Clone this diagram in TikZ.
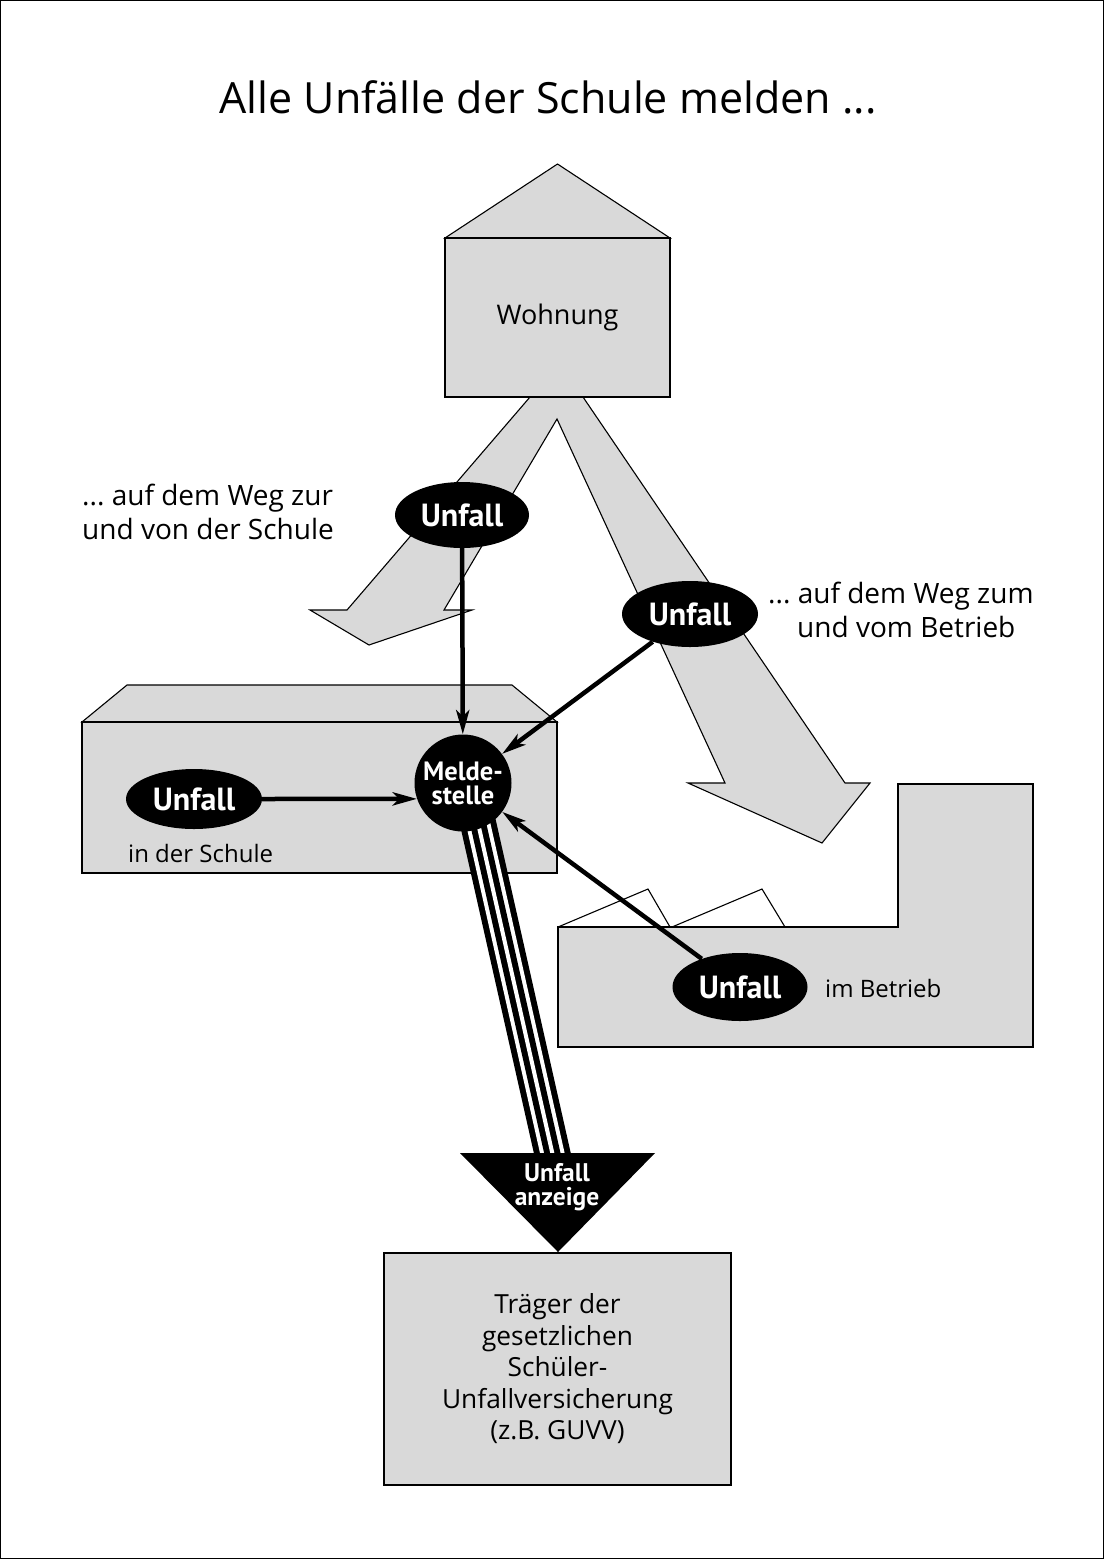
\documentclass[tikz,border=0pt]{standalone}
\usepackage{fontspec}
\setmainfont{Open Sans}
\newfontfamily\condbold{PT Sans}
\usetikzlibrary{shapes.geometric,arrows.meta,calc}
\frenchspacing
\begin{document}
\begin{tikzpicture}[x=1pt,y=-1pt,
  outlined/.style={draw=black, line width=1.1pt, fill=black!15, line join=miter},
  unfall/.style={ellipse, fill=black, text=white, inner sep=0pt,
    font={\condbold\bfseries\fontsize{32}{32}\selectfont}},
  conn/.style={draw=black, line width=4.5pt, -{Stealth[length=24pt,width=13pt,inset=6pt]}},
  lbl/.style={anchor=base west, inner sep=0pt, font={\fontsize{28}{34}\selectfont}},
  small/.style={anchor=base west, inner sep=0pt, font={\fontsize{24}{28}\selectfont}},
  whitebold/.style={text=white, inner sep=0pt, align=center,
    font={\condbold\bfseries\fontsize{25.5}{24}\selectfont}},
]
\useasboundingbox (0,0) rectangle (1104,1559);
% frame
\draw[line width=1.2pt] (0.6,0.6) rectangle (1103.4,1558.4);

% title
\node[inner sep=0pt, font={\fontsize{43}{48}\selectfont}] (title) at (548,97) {Alle Unfälle der Schule melden ...};

% big grey route arrows
\draw[outlined] (530,397) -- (347,610) -- (310,610) -- (369,645) -- (472,610) -- (444,610)
  -- (557,419) -- (725,783) -- (688,783) -- (822,843) -- (870,783) -- (845,783)
  -- (583,397) -- cycle;

% house
\draw[outlined] (445,238) -- (557.5,164) -- (670,238) -- cycle;
\node[outlined, rectangle, minimum width=225pt, minimum height=159pt, inner sep=0pt,
  font={\fontsize{27}{32}\selectfont}] (wohnung) at (557.5,317.5) {Wohnung};

% school
\draw[outlined] (82,722) -- (127,685) -- (512,685) -- (557,722) -- cycle;
\draw[outlined] (82,722) rectangle (557,873);
\node[small] (schule) at (128,862) {in der Schule};

% company
\draw[outlined] (558,927) -- (898,927) -- (898,784) -- (1033,784) -- (1033,1047) -- (558,1047) -- cycle;
\draw[line width=1.1pt, line join=miter] (558,927) -- (648,889) -- (670,927);
\draw[line width=1.1pt, line join=miter] (672,927) -- (762,889) -- (785,927);
\node[small] (betrieb) at (825,997) {im Betrieb};

% texts for routes
\node[lbl] (wegschule1) at (82,505) {... auf dem Weg zur};
\node[lbl] (wegschule2) at (82,539) {und von der Schule};
\node[lbl] (wegbetrieb1) at (768,603) {... auf dem Weg zum};
\node[lbl] (wegbetrieb2) at (797,637) {und vom Betrieb};

% insurer
\node[outlined, rectangle, minimum width=347pt, minimum height=232pt, inner sep=0pt,
  align=center, font={\fontsize{26.3}{31.5}\selectfont}] (traeger) at (557.5,1369)
  {Träger der\\gesetzlichen\\Schüler-\\Unfallversicherung\\(z.B. GUVV)};

% report bundle
\coordinate (mc) at (463,783);
\coordinate (anztop) at (555,1165);
\foreach \w/\c in {36/black,24/white,16/black,4/white}
  \draw[line width=\w pt, \c] ($(mc)+(6,0)$) -- (anztop);
\fill[black] (460,1153) -- (655,1153) -- (558,1252) -- cycle;
\node[whitebold] (anzeige) at (557,1187) {Unfall\\anzeige};

% Meldestelle
\node[circle, fill=black, minimum size=97pt, inner sep=0pt, text=white, align=center,
  font={\condbold\bfseries\fontsize{26.5}{24}\selectfont}] (melde) at (mc) {Melde-\\stelle};

% accidents
\node[unfall, minimum width=134pt, minimum height=66pt] (u1) at (462,515) {Unfall};
\node[unfall, minimum width=136pt, minimum height=66pt] (u2) at (690,614) {Unfall};
\node[unfall, minimum width=136pt, minimum height=60pt] (u3) at (194,799) {Unfall};
\node[unfall, minimum width=135pt, minimum height=68pt] (u4) at (740,987) {Unfall};

% connectors
\draw[conn] (u1) -- (melde);
\draw[conn] (u2) -- (melde);
\draw[conn] (u3.east) -- (melde.199);
\draw[conn] (u4) -- (melde);
\end{tikzpicture}
\end{document}
